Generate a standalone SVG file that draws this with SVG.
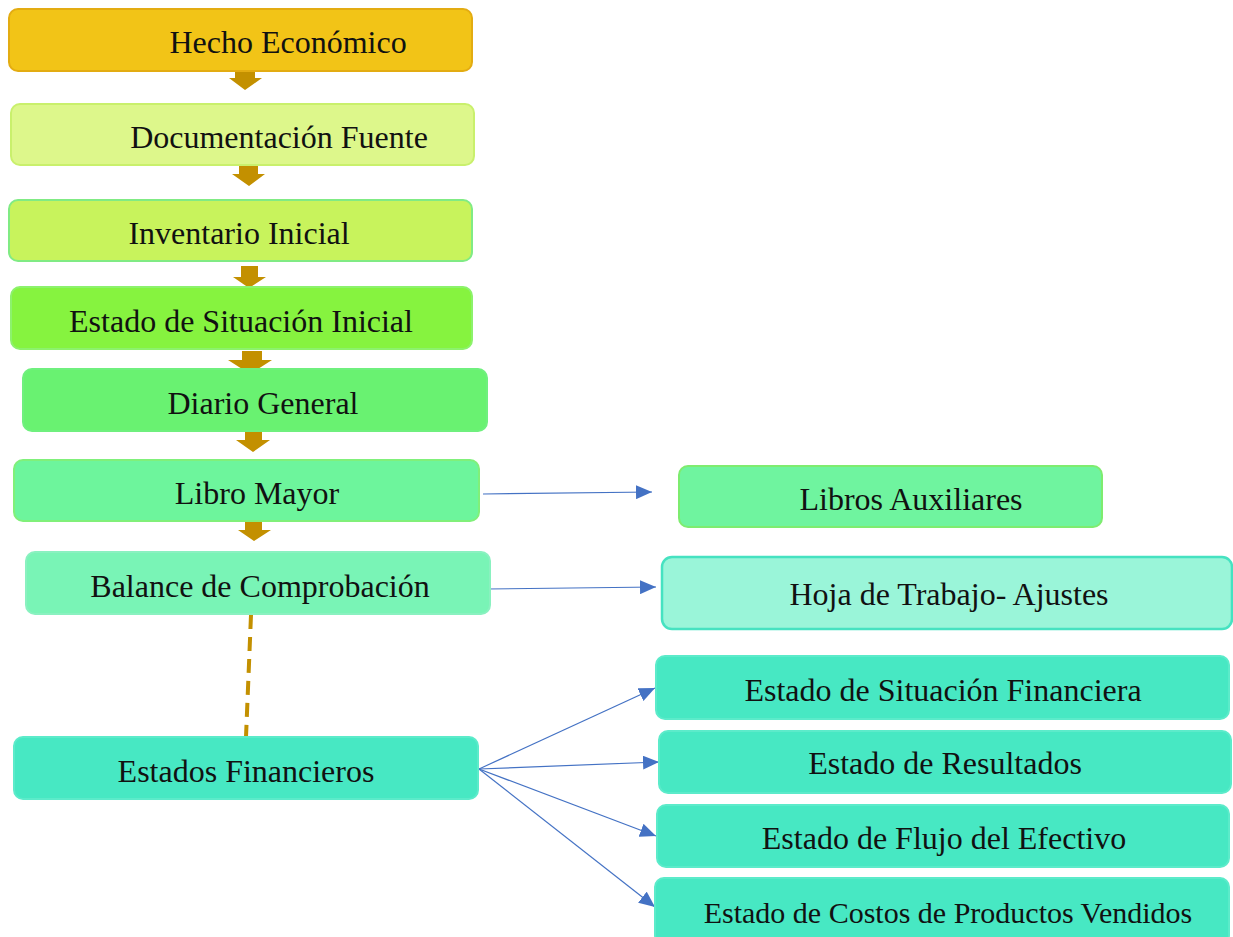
<svg xmlns="http://www.w3.org/2000/svg" width="1233" height="937" viewBox="0 0 1233 937">
<style>
  .box { stroke-width: 2; }
  .lbl { font-family: "Liberation Serif", "Times New Roman", serif; font-size: 32px; fill: #111; text-anchor: middle; }
  .blk { fill: #C39000; }
  .conn { stroke: #4472C4; stroke-width: 1.2; fill: none; marker-end: url(#tri); }
  .dash { stroke: #C39000; stroke-width: 4; stroke-dasharray: 14 8; fill: none; }
</style>
<defs>
  <marker id="tri" markerUnits="userSpaceOnUse" markerWidth="16" markerHeight="14" viewBox="0 0 16 14" refX="16" refY="7" orient="auto">
    <path d="M0,0 L16,7 L0,14 Z" fill="#4472C4"/>
  </marker>
</defs>
<rect width="1233" height="937" fill="#ffffff"/>
<g id="connectors">
  <path class="blk" d="M235,70 H255 V78 H262 L245,90 L229,78 H235 Z"/>
  <path class="blk" d="M239,164 H258 V174 H265 L249,186 L232,174 H239 Z"/>
  <path class="blk" d="M241,266 H258 V277 H266 L249,288 L233,277 H241 Z"/>
  <path class="blk" d="M242,351 H262 V360 H272 L250,374 L228,360 H242 Z"/>
  <path class="blk" d="M245,431 H262 V440 H270 L253,452 L236,440 H245 Z"/>
  <path class="blk" d="M245,521 H262 V530 H271 L254,541 L238,530 H245 Z"/>
  <path class="dash" d="M251,615 L246,737"/>
  <path class="conn" d="M483,494 L652,492"/>
  <path class="conn" d="M487,589 L656,587"/>
  <path class="conn" d="M479,769 L655,688"/>
  <path class="conn" d="M479,769 L659,762"/>
  <path class="conn" d="M479,769 L656,836"/>
  <path class="conn" d="M479,769 L655,907"/>
</g>
<g id="n-hecho">
  <rect class="box" x="9" y="9" width="463" height="62" rx="9" fill="#F2C417" stroke="#E3AC12"/>
  <text class="lbl" x="288" y="53">Hecho Económico</text>
</g>
<g id="n-documentacion">
  <rect class="box" x="11" y="104" width="463" height="61" rx="9" fill="#DDF78B" stroke="#C9F06C"/>
  <text class="lbl" x="279" y="148">Documentación Fuente</text>
</g>
<g id="n-inventario">
  <rect class="box" x="9" y="200" width="463" height="61" rx="9" fill="#C8F35C" stroke="#80EB84"/>
  <text class="lbl" x="239" y="244">Inventario Inicial</text>
</g>
<g id="n-esi">
  <rect class="box" x="11" y="287" width="461" height="62" rx="9" fill="#86F33F" stroke="#8CF26C"/>
  <text class="lbl" x="241" y="332">Estado de Situación Inicial</text>
</g>
<g id="n-diario">
  <rect class="box" x="23" y="369" width="464" height="62" rx="9" fill="#69F271" stroke="#6FF07E"/>
  <text class="lbl" x="263" y="414">Diario General</text>
</g>
<g id="n-mayor">
  <rect class="box" x="14" y="460" width="465" height="61" rx="9" fill="#6DF59C" stroke="#80F07A"/>
  <text class="lbl" x="257" y="504">Libro Mayor</text>
</g>
<g id="n-auxiliares">
  <rect class="box" x="679" y="466" width="423" height="61" rx="9" fill="#6FF49F" stroke="#7EEC6F"/>
  <text class="lbl" x="911" y="510">Libros Auxiliares</text>
</g>
<g id="n-balance">
  <rect class="box" x="26" y="552" width="464" height="62" rx="9" fill="#79F4B6" stroke="#8AF1C0"/>
  <text class="lbl" x="260" y="597">Balance de Comprobación</text>
</g>
<g id="n-hoja">
  <rect x="662" y="557" width="570" height="72" rx="10" fill="#9AF5D9" stroke="#46E2C1" stroke-width="2.5"/>
  <text class="lbl" x="949" y="605">Hoja de Trabajo- Ajustes</text>
</g>
<g id="n-estados">
  <rect class="box" x="14" y="737" width="464" height="62" rx="9" fill="#47E8C3" stroke="#5CEBCA"/>
  <text class="lbl" x="246" y="782">Estados Financieros</text>
</g>
<g id="n-esf">
  <rect class="box" x="656" y="656" width="573" height="63" rx="9" fill="#47E8C3" stroke="#5CEBCA"/>
  <text class="lbl" x="943" y="701">Estado de Situación Financiera</text>
</g>
<g id="n-er">
  <rect class="box" x="659" y="731" width="572" height="62" rx="9" fill="#47E8C3" stroke="#5CEBCA"/>
  <text class="lbl" x="945" y="774">Estado de Resultados</text>
</g>
<g id="n-efe">
  <rect class="box" x="657" y="805" width="572" height="62" rx="9" fill="#47E8C3" stroke="#5CEBCA"/>
  <text class="lbl" x="944" y="849">Estado de Flujo del Efectivo</text>
</g>
<g id="n-ecpv">
  <rect class="box" x="655" y="878" width="574" height="66" rx="9" fill="#47E8C3" stroke="#5CEBCA"/>
  <text class="lbl" x="948" y="923" style="font-size:30px">Estado de Costos de Productos Vendidos</text>
</g>
</svg>
